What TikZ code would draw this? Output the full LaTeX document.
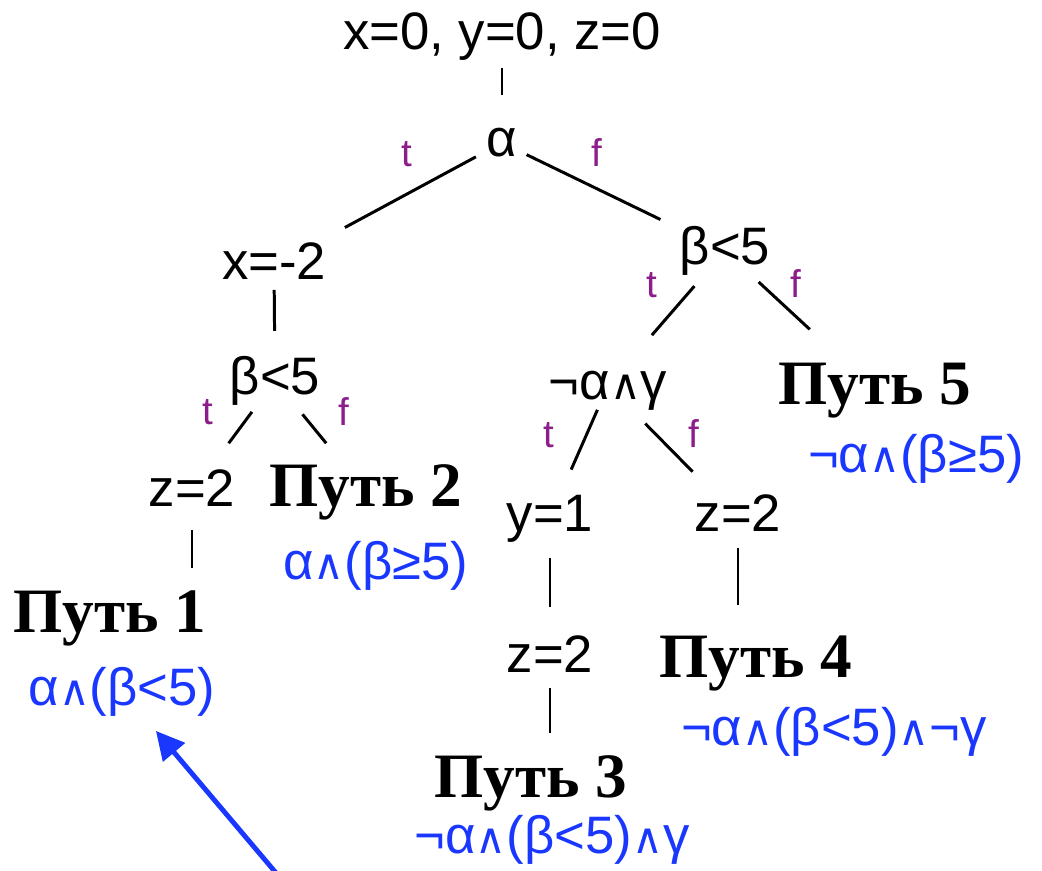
\documentclass[tikz,border=0pt]{standalone}
\usepackage{fontspec}
\setmainfont{Liberation Sans}
\newfontfamily\pathfont{Liberation Serif}
\newfontfamily\symfont{DejaVu Sans}
\usepackage{tikz}
\usetikzlibrary{arrows.meta}
\usepackage{xcolor}
\definecolor{condblue}{RGB}{25,55,255}
\definecolor{tfpurple}{RGB}{140,30,140}
\newcommand{\conj}{{\symfont\fontsize{24}{24}\selectfont ∧}}

\begin{document}
\begin{tikzpicture}[
    x=0.02cm, y=-0.02cm,
    tn/.style={inner sep=0pt, anchor=base, text height=21.6pt, text depth=5.4pt, font=\fontsize{30}{36}\selectfont},
    cond/.style={tn, text=condblue},
    pathname/.style={inner sep=0pt, anchor=base, text height=24.5pt, text depth=7.2pt, font=\pathfont\bfseries\fontsize{36}{42}\selectfont},
    tf/.style={anchor=base, inner sep=0pt, text=tfpurple, font=\fontsize{22}{26}\selectfont},
    edge/.style={draw, line width=1.7pt},
    pointer/.style={draw, condblue, line width=2.8pt, -{Triangle[length=16pt,width=16pt]}}
]
\useasboundingbox (0,0) rectangle (1042,871);

% tree nodes
\node[tn] (init) at (502,50) {x=0, y=0, z=0};
\node[tn] (alpha) at (502,157) {α};
\node[tn] (xm2) at (274,280) {x=-2};
\node[tn] (betaL) at (275,395) {β<5};
\node[tn] (zL) at (192,507) {z=2};
\node[tn] (betaR) at (725,265) {β<5};
\node[tn] (nag) at (608,400) {¬α\conj{}γ};
\node[tn] (y1) at (550,532) {y=1};
\node[tn] (zM) at (550,672) {z=2};
\node[tn] (zR) at (738,532) {z=2};

% path names
\node[pathname] (p1) at (110,632) {Путь 1};
\node[pathname] (p2) at (366,507) {Путь 2};
\node[pathname] (p3) at (531,797) {Путь 3};
\node[pathname] (p4) at (756,677) {Путь 4};
\node[pathname] (p5) at (875,405) {Путь 5};

% path conditions
\node[cond] (c1) at (122,705) {α\conj{}(β<5)};
\node[cond] (c2) at (376,580) {α\conj{}(β≥5)};
\node[cond] (c3) at (552,853) {¬α\conj{}(β<5)\conj{}γ};
\node[cond] (c4) at (834,745) {¬α\conj{}(β<5)\conj{}¬γ};
\node[cond] (c5) at (916,473) {¬α\conj{}(β≥5)};

% branch labels
\node[tf] (tA) at (407,167) {t};
\node[tf] (fA) at (597,167) {f};
\node[tf] (tL) at (208,425) {t};
\node[tf] (fL) at (344,426) {f};
\node[tf] (tR) at (652,298) {t};
\node[tf] (fR) at (796,298) {f};
\node[tf] (tN) at (549,448) {t};
\node[tf] (fN) at (694,448) {f};

\draw[edge, shorten <=4.5pt, shorten >=13.6pt] (init) -- (alpha);
\draw[edge, shorten <=6.8pt, shorten >=17pt] (alpha) -- (xm2);
\draw[edge, shorten <=5.7pt, shorten >=12pt] (alpha) -- (betaR);
\draw[edge, shorten >=14.7pt] (xm2) -- (betaL);
\draw[edge, shorten <=5pt, shorten >=18pt] (betaL) -- (zL);
\draw[edge, shorten <=7pt, shorten >=15pt] (betaL) -- (p2);
\draw[edge, shorten <=7.4pt, shorten >=12pt] (zL) -- (zL |- p1.north);
\draw[edge, shorten <=8.5pt, shorten >=20pt] (betaR) -- (nag);
\draw[edge, shorten <=6pt, shorten >=27pt] (betaR) -- (p5);
\draw[edge, shorten >=15pt] (nag) -- (y1);
\draw[edge, shorten <=11pt, shorten >=17.6pt] (nag) -- (zR);
\draw[edge, shorten <=9pt, shorten >=15pt] (y1) -- (zM);
\draw[edge, shorten <=3.4pt, shorten >=12pt] (zM) -- (zM |- p3.north);
\draw[edge, shorten <=3.4pt, shorten >=16.4pt] (zR) -- (zR |- p4.north);

\coordinate (tail) at (282,880);
\draw[pointer, shorten >=12pt] (tail) -- (c1);

\end{tikzpicture}
\end{document}
